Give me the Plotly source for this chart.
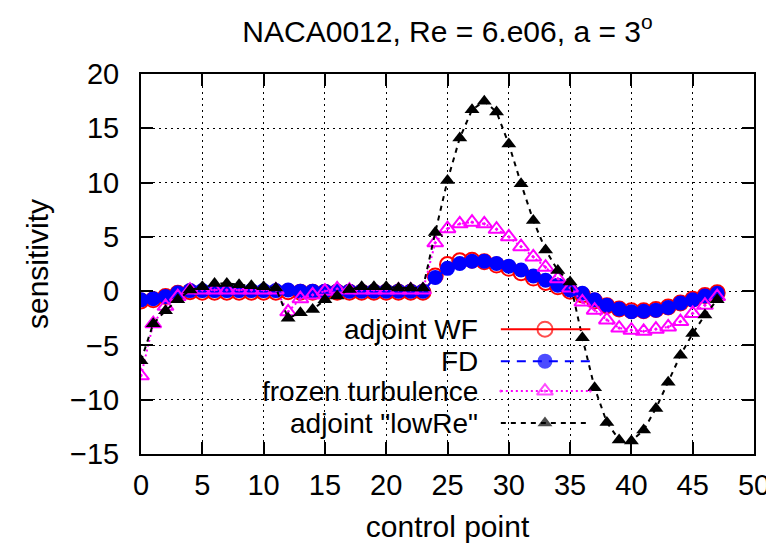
import plotly.graph_objects as go

control_point = list(range(48))

adjoint_wf = [-0.9, -0.8, -0.5, -0.2, -0.05, -0.1, -0.1, -0.1, -0.1, -0.1, -0.1, -0.1,
              -0.05, -0.1, -0.1, -0.1, -0.1, -0.1, -0.1, -0.1, -0.1, -0.1, -0.1, -0.1,
              1.4, 2.45, 2.8, 2.85, 2.7, 2.4, 2.1, 1.7, 1.2, 0.8, 0.4, 0.0,
              -0.35, -0.9, -1.35, -1.65, -1.8, -1.8, -1.7, -1.45, -1.1, -0.75, -0.4, -0.15]

fd = [-0.8, -0.7, -0.5, -0.15, 0.05, 0.05, 0.05, 0.05, 0.05, 0.05, 0.05, 0.05,
      0.1, 0.0, 0.0, 0.0, 0.0, 0.0, 0.0, 0.0, 0.0, 0.0, 0.0, 0.0,
      1.25, 2.1, 2.55, 2.75, 2.75, 2.55, 2.3, 1.95, 1.4, 1.0, 0.55, 0.1,
      -0.2, -0.8, -1.3, -1.65, -1.9, -1.85, -1.75, -1.5, -1.1, -0.8, -0.45, -0.2]

frozen = [-7.8, -3.0, -1.4, -0.5, 0.1, 0.1, 0.1, 0.1, 0.1, 0.1, 0.1, 0.1,
          -1.9, -0.7, -0.35, 0.0, 0.2, 0.1, 0.1, 0.1, 0.1, 0.1, 0.1, 0.1,
          4.45, 5.75, 6.2, 6.35, 6.2, 5.7, 5.0, 4.1, 3.15, 2.2, 1.15, 0.3,
          -1.0, -1.75, -2.65, -3.4, -3.6, -3.7, -3.5, -3.3, -2.8, -2.05, -1.3, -0.5]

lowre = [-6.4, -3.0, -1.8, -0.8, 0.1, 0.4, 0.7, 0.7, 0.6, 0.5, 0.4, 0.3,
         -2.5, -2.0, -1.7, -0.8, -0.45, 0.15, 0.4, 0.4, 0.4, 0.3, 0.3, 0.3,
         5.4, 10.2, 14.1, 16.7, 17.5, 16.5, 13.55, 9.9, 6.5, 3.8, 1.9, 0.85,
         -4.3, -8.9, -12.1, -13.7, -13.8, -12.8, -10.8, -8.4, -5.9, -3.9, -2.2, -0.8]

series_names = ["adjoint WF", "FD", "frozen turbulence", 'adjoint "lowRe"']
x_ticks = [0, 5, 10, 15, 20, 25, 30, 35, 40, 45, 50]
y_ticks = [-15, -10, -5, 0, 5, 10, 15, 20]

FONT = "Liberation Sans, Arial, sans-serif"
TXT = 30
LEG = 28
TICK = 29

styles = [
    dict(line=dict(color="#ff0000", width=2, dash="solid"),
         marker=dict(symbol="circle-open", size=15, color="#ff0000", line=dict(width=2, color="#ff0000"))),
    dict(line=dict(color="#0000ff", width=2, dash="9px,7px"),
         marker=dict(symbol="circle", size=15, color="#0000ff", line=dict(width=0))),
    dict(line=dict(color="#ff00ff", width=2, dash="2px,3px"),
         marker=dict(symbol="triangle-up-open-dot", size=14, color="#ff00ff", line=dict(width=2, color="#ff00ff"))),
    dict(line=dict(color="#000000", width=2, dash="5px,5px"),
         marker=dict(symbol="triangle-up", size=13, color="#000000", line=dict(width=0))),
]

fig = go.Figure()
for name, ys, st in zip(series_names, [adjoint_wf, fd, frozen, lowre], styles):
    fig.add_trace(go.Scatter(x=control_point, y=ys, name=name, mode="lines+markers",
                             line=st["line"], marker=st["marker"], showlegend=False))

# custom gnuplot-style legend (text right-aligned, sample on right)
leg_rows = [0.3285, 0.2444, 0.1656, 0.0815]
for name, st, yr in zip(series_names, styles, leg_rows):
    fig.add_trace(go.Scatter(x=[0.587, 0.659, 0.733], y=[yr, yr, yr], mode="lines+markers",
                             line=st["line"],
                             marker=dict(symbol=st["marker"]["symbol"], size=[0, st["marker"]["size"], 0],
                                         color=st["marker"]["color"], line=st["marker"]["line"]),
                             xaxis="x2", yaxis="y2", showlegend=False, hoverinfo="skip"))
    fig.add_annotation(x=0.553, y=yr, xref="paper", yref="paper", text=name, showarrow=False,
                       xanchor="right", yanchor="middle", font=dict(family=FONT, size=LEG, color="black"))

# opaque legend background (hides grid lines)
fig.add_shape(type="rect", xref="paper", yref="paper", x0=0, x1=0.76, y0=0, y1=0.3706,
              fillcolor="white", line=dict(width=0), layer="between")

axis_common = dict(showline=True, linecolor="black", linewidth=2, mirror="allticks",
                   ticks="inside", ticklen=12, tickwidth=2, tickcolor="black",
                   showgrid=True, gridcolor="black", gridwidth=1, griddash="2px,4px",
                   zeroline=False, tickfont=dict(family=FONT, size=TICK, color="black"))

fig.update_layout(
    width=774, height=548,
    margin=dict(l=133, r=23, t=65.5, b=102),
    paper_bgcolor="white", plot_bgcolor="white",
    title=dict(text="NACA0012, Re = 6.e06, a = 3<sup>o</sup>", xref="paper", x=0.5, xanchor="center",
               y=0.958, yanchor="middle", font=dict(family=FONT, size=TXT, color="black")),
    xaxis=dict(range=[0, 50], tickvals=x_ticks, ticklabelstandoff=4,
               title=dict(text="control point", standoff=16,
                          font=dict(family=FONT, size=TXT, color="black")), **axis_common),
    yaxis=dict(range=[-15, 20], tickvals=y_ticks, ticklabelstandoff=14,
               title=dict(text="sensitivity", standoff=12,
                          font=dict(family=FONT, size=TXT, color="black")), **axis_common),
    xaxis2=dict(range=[0, 1], overlaying="x", visible=False, fixedrange=True),
    yaxis2=dict(range=[0, 1], overlaying="y", visible=False, fixedrange=True),
)

fig.write_html("out.html")
